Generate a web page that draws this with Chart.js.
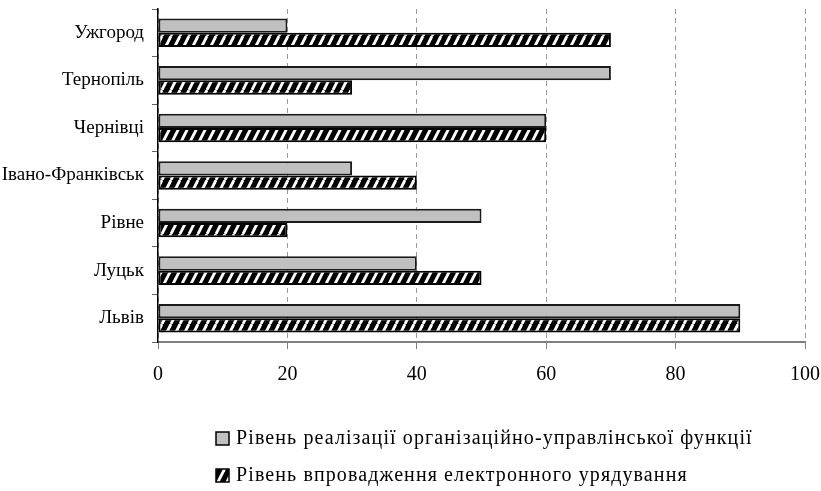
<!DOCTYPE html>
<html>
<head>
<meta charset="utf-8">
<script src="https://cdn.jsdelivr.net/npm/chart.js@4"></script>
<style>
  html, body { margin: 0; padding: 0; background: #fff; }
  #wrap { width: 821px; height: 491px; }
</style>
</head>
<body>
<div id="wrap"><canvas id="chart" width="821" height="491"></canvas></div>
<script>
// Categories, top to bottom
const cities = ['Ужгород', 'Тернопіль', 'Чернівці', 'Івано-Франківськ', 'Рівне', 'Луцьк', 'Львів'];
// Series values
const orgFunction = [20, 70, 60, 30, 50, 40, 90];
const eGovernment = [70, 30, 60, 40, 20, 50, 90];
// Tick labels on the value axis
const xTicks = [0, 20, 40, 60, 80, 100];
const seriesNames = [
    'Рівень реалізації організаційно-управлінської функції',
    'Рівень впровадження електронного урядування'
];

const FONT = '"Liberation Serif", "Times New Roman", serif';

// black bars with white "/" stripes
function makeHatch() {
    const w = 9, h = 18;
    const c = document.createElement('canvas');
    c.width = w; c.height = h;
    const g = c.getContext('2d');
    g.fillStyle = '#000';
    g.fillRect(0, 0, w, h);
    g.strokeStyle = '#fff';
    g.lineWidth = 2.8;
    for (const dx of [-w, 0, w]) {
        g.beginPath();
        g.moveTo(dx, h);
        g.lineTo(dx + w, 0);
        g.stroke();
    }
    return g.createPattern(c, 'repeat');
}
const hatch = makeHatch();

// legend drawn as two left-aligned rows under the plot
const rowLegend = {
    id: 'rowLegend',
    beforeInit(chart) {
        chart.ctx.letterSpacing = '0.9px';
    },
    afterDraw(chart) {
        const ctx = chart.ctx;
        ctx.save();
        ctx.letterSpacing = '1.1px';
        ctx.font = '20px ' + FONT;
        ctx.textBaseline = 'middle';
        chart.data.datasets.forEach((ds, i) => {
            const y = 438 + i * 37;
            const x = 216;
            ctx.fillStyle = ds.backgroundColor;
            ctx.fillRect(x, y - 6, 13, 13);
            ctx.lineWidth = 1.5;
            ctx.strokeStyle = '#000';
            ctx.strokeRect(x, y - 6, 13, 13);
            ctx.fillStyle = '#000';
            ctx.fillText(ds.label, x + 20, y + 1);
        });
        ctx.restore();
    }
};

const ctx = document.getElementById('chart').getContext('2d');
const chart = new Chart(ctx, {
    type: 'bar',
    data: {
        labels: cities,
        datasets: [{
            label: seriesNames[0],
            data: orgFunction,
            backgroundColor: '#c0c0c0',
            borderColor: '#1a1a1a',
            borderWidth: 2,
            borderSkipped: false
        }, {
            label: seriesNames[1],
            data: eGovernment,
            backgroundColor: hatch,
            borderColor: '#000',
            borderWidth: 2,
            borderSkipped: false
        }]
    },
    options: {
        indexAxis: 'y',
        responsive: false,
        animation: false,
        devicePixelRatio: 1,
        layout: { padding: { top: 9, right: 16, bottom: 99, left: 0 } },
        datasets: { bar: { categoryPercentage: 0.6, barPercentage: 1.0 } },
        plugins: {
            legend: { display: false },
            tooltip: { enabled: false }
        },
        scales: {
            x: {
                min: 0,
                max: 100,
                afterBuildTicks: (scale) => { scale.ticks = xTicks.map(v => ({ value: v })); },
                afterFit: (scale) => {
                    scale.height = 50;
                    scale.paddingLeft = 0;
                    scale.paddingRight = 0;
                },
                border: { display: true, color: '#808080', width: 2, dash: [5, 4] },
                grid: {
                    color: '#9a9a9a',
                    lineWidth: 1,
                    tickLength: 7,
                    tickColor: '#808080',
                    tickBorderDash: []
                },
                ticks: {
                    color: '#000',
                    padding: 14,
                    font: { family: FONT, size: 20 }
                }
            },
            y: {
                afterFit: (scale) => {
                    scale.width = 158;
                    scale.paddingTop = 0;
                    scale.paddingBottom = 0;
                },
                border: { display: true, color: '#000', width: 1.5 },
                grid: {
                    offset: true,
                    drawOnChartArea: false,
                    tickLength: 6,
                    tickColor: '#666'
                },
                ticks: {
                    color: '#000',
                    padding: 8,
                    font: { family: FONT, size: 19 }
                }
            }
        }
    },
    plugins: [rowLegend]
});
</script>
</body>
</html>
